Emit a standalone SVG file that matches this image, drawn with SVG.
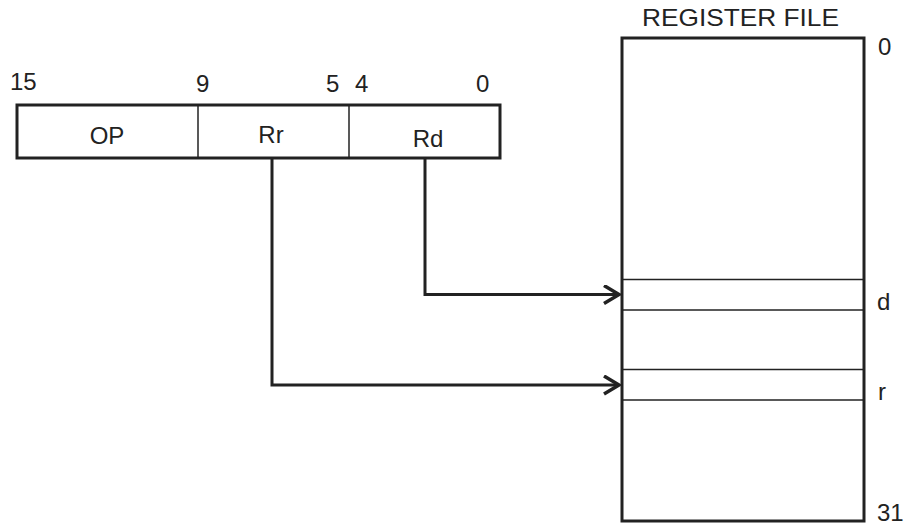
<svg xmlns="http://www.w3.org/2000/svg" width="909" height="528" viewBox="0 0 909 528">
<style>
text{font-family:"Liberation Sans",Arial,sans-serif;fill:#222;}
.lbl{font-size:24px;}
.thick{fill:none;stroke:#222;stroke-width:3;}
.thin{fill:none;stroke:#222;stroke-width:1.5;}
.conn{fill:none;stroke:#222;stroke-width:3;}
</style>
<defs>
<marker id="arr" markerWidth="20" markerHeight="22" refX="16" refY="10" orient="auto" markerUnits="userSpaceOnUse">
<path d="M1,1 L16,10 L1,19" fill="none" stroke="#222" stroke-width="3.5"/>
</marker>
</defs>
<g id="instruction">
<rect class="thick" x="17" y="105" width="483" height="53"/>
<line class="thin" x1="198" y1="105" x2="198" y2="158"/>
<line class="thin" x1="349" y1="105" x2="349" y2="158"/>
<text class="lbl" x="10" y="90">15</text>
<text class="lbl" x="196" y="92">9</text>
<text class="lbl" x="326" y="92">5</text>
<text class="lbl" x="355" y="92">4</text>
<text class="lbl" x="476" y="92">0</text>
<text class="lbl" x="107" y="144" text-anchor="middle">OP</text>
<text class="lbl" x="271" y="143" text-anchor="middle">Rr</text>
<text class="lbl" x="428" y="147" text-anchor="middle">Rd</text>
</g>
<g id="register-file">
<text class="lbl" x="642" y="26" textLength="197" lengthAdjust="spacingAndGlyphs">REGISTER FILE</text>
<rect class="thick" x="622" y="38" width="242" height="483"/>
<line class="thin" x1="622" y1="279.5" x2="864" y2="279.5"/>
<line class="thin" x1="622" y1="310" x2="864" y2="310"/>
<line class="thin" x1="622" y1="369.5" x2="864" y2="369.5"/>
<line class="thin" x1="622" y1="400" x2="864" y2="400"/>
<text class="lbl" x="878" y="55">0</text>
<text class="lbl" x="877" y="310">d</text>
<text class="lbl" x="878" y="400">r</text>
<text class="lbl" x="877" y="521">31</text>
</g>
<g id="connectors">
<path class="conn" d="M425,158 V294.5 H619" marker-end="url(#arr)"/>
<path class="conn" d="M272,158 V385 H619" marker-end="url(#arr)"/>
</g>
</svg>
